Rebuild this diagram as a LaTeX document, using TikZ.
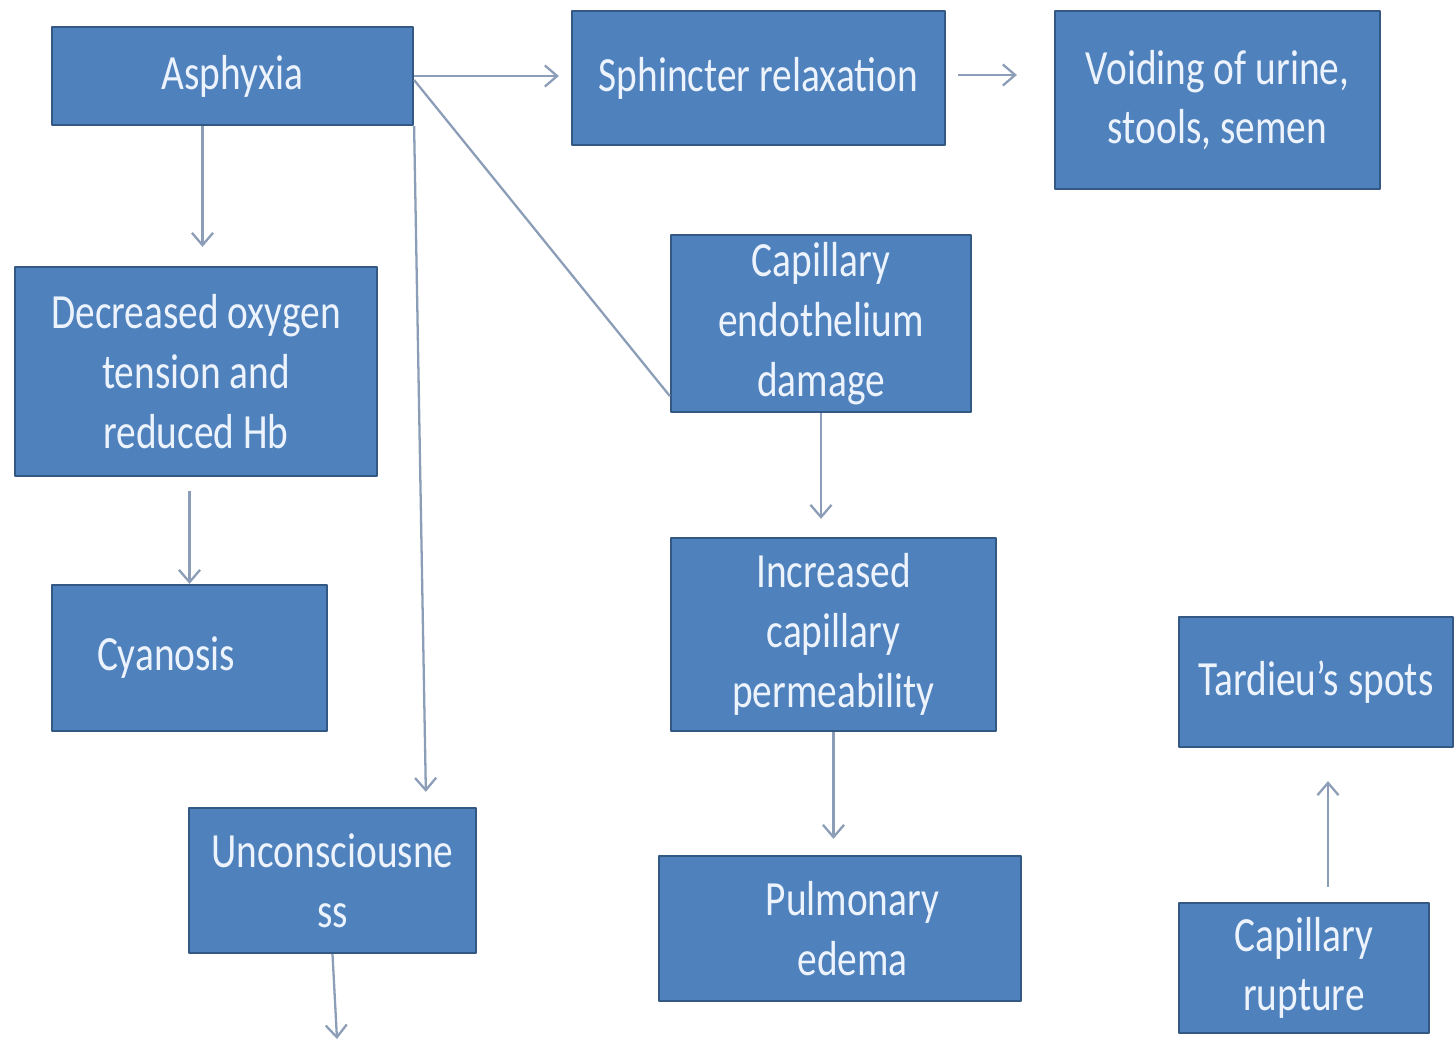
\documentclass[tikz,border=0pt]{standalone}
\usepackage{fontspec}
\setmainfont{Carlito}[FakeStretch=0.8]
\usetikzlibrary{arrows.meta,calc}
\definecolor{boxfill}{RGB}{79,129,189}
\definecolor{boxline}{RGB}{52,88,132}
\definecolor{arrowgray}{RGB}{140,157,183}
\definecolor{boxtext}{RGB}{236,243,252}
\tikzset{
  box/.style={draw=boxline, line width=1.3pt, fill=boxfill, text=boxtext,
    align=center, inner sep=0pt, font=\fontsize{28}{34}\selectfont},
  arr/.style={draw=arrowgray, line width=1.3pt, -{Straight Barb[length=7pt,width=12pt]}},
  plainline/.style={draw=arrowgray, line width=1.3pt}
}
\begin{document}
\begin{tikzpicture}[x=0.02cm, y=-0.02cm, line join=round]
    \useasboundingbox (0,0) rectangle (1455,1039);

    % 1. 方框
    \node[box, minimum width=7.22cm, minimum height=1.96cm] (asph) at (232.5,76) {Asphyxia};
    \node[box, minimum width=7.46cm, minimum height=2.68cm] (sphinc) at (758.5,78) {Sphincter relaxation};
    \node[box, minimum width=6.5cm, minimum height=3.56cm] (void) at (1217.5,100) {Voiding of urine,\\stools, semen};
    \node[box, minimum width=7.24cm, minimum height=4.18cm] (decr) at (196,371.5) {Decreased oxygen\\tension and\\reduced Hb};
    \node[box, minimum width=5.5cm, minimum height=2.92cm, text width=3.7cm, align=left, inner xsep=0.9cm] (cyan) at (189.5,658) {Cyanosis};
    \node[box, minimum width=5.74cm, minimum height=2.9cm] (unc) at (332.5,880.5) {Unconsciousne\\ss};
    \node[box, minimum width=6cm, minimum height=3.54cm] (cap) at (821,323.5) {Capillary\\endothelium\\damage};
    \node[box, minimum width=6.5cm, minimum height=3.86cm] (incr) at (833.5,634.5) {Increased\\capillary\\permeability};
    \node[box, minimum width=7.24cm, minimum height=2.9cm] (pulm) at (840,928.5) {\hspace*{0.5cm}Pulmonary\\\hspace*{0.5cm}edema};
    \node[box, minimum width=5.48cm, minimum height=2.6cm] (tard) at (1316,682) {Tardieu’s spots};
    \node[box, minimum width=5cm, minimum height=2.6cm] (rupt) at (1304,968) {Capillary\\rupture};

    \coordinate (out) at (337,1039);

    % 2. 箭头
    \draw[arr, shorten >=0.24cm] (asph.east) -- (asph.east -| sphinc.west);
    \draw[arr, shorten <=0.24cm, shorten >=0.74cm] (sphinc.east |- 0,75) -- (void.west |- 0,75);
    \draw[arr, shorten >=0.38cm] ([xshift=-0.6cm]asph.south) -- ([xshift=-0.6cm]asph.south |- decr.north);
    \draw[arr, shorten <=0.28cm] (cyan.north |- decr.south) -- (cyan.north);
    \draw[arr, shorten >=0.3cm] (asph.south east) -- ([xshift=-1.02cm]unc.north east);
    \draw[plainline] ([yshift=-0.08cm]asph.east) -- ([yshift=0.34cm]cap.south west);
    \draw[arr, shorten >=0.36cm] (cap.south) -- (cap.south |- incr.north);
    \draw[arr, shorten >=0.32cm] (incr.south) -- (incr.south |- pulm.north);
    \draw[arr, shorten <=0.3cm, shorten >=0.66cm] ([xshift=0.48cm]rupt.north) -- ([xshift=0.48cm]rupt.north |- tard.south);
    \draw[arr] (unc.south) -- (out);

\end{tikzpicture}
\end{document}
